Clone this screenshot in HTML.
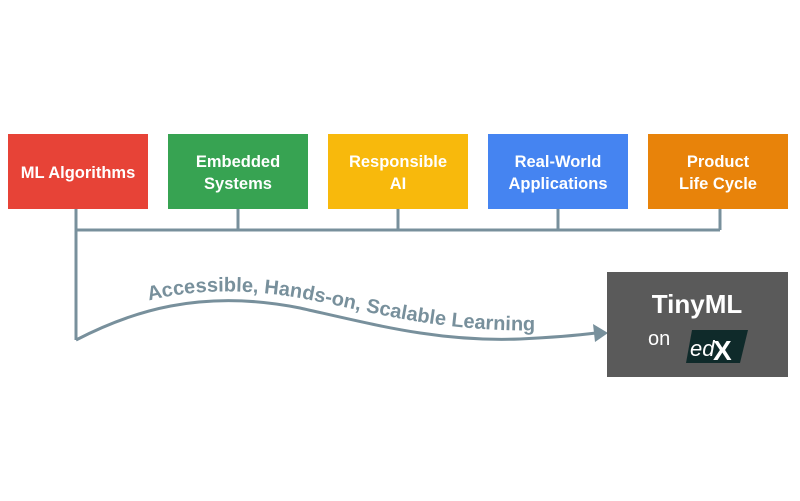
<!DOCTYPE html>
<html><head><style>
html,body{margin:0;padding:0;background:#fff;}
svg{display:block;}
text{font-family:"Liberation Sans",sans-serif;}
</style></head><body>
<svg width="800" height="501" viewBox="0 0 800 501" xmlns="http://www.w3.org/2000/svg">
<g stroke="#78909c" stroke-width="3" fill="none">
<path d="M76,209 V340"/>
<path d="M76,230 H720 M238,209 V230 M398,209 V230 M558,209 V230 M720,209 V230"/>
<path d="M76,340 C130,312 200,288 300,308 C380,326 440,342 520,339 C560,337 580,335 596,333"/>
</g>
<polygon points="608,333 593,324 595,342" fill="#78909c"/>
<path id="tp" d="M100,318 C140,300 200,281 300,298 C380,313 440,334 560,330" fill="none"/>
<text font-size="20" font-weight="bold" fill="#78909c"><textPath href="#tp" startOffset="52">Accessible, Hands-on, Scalable Learning</textPath></text>
<rect x="8" y="134" width="140" height="75" fill="#e74337"/>
<rect x="168" y="134" width="140" height="75" fill="#37a352"/>
<rect x="328" y="134" width="140" height="75" fill="#f8b90c"/>
<rect x="488" y="134" width="140" height="75" fill="#4584f1"/>
<rect x="648" y="134" width="140" height="75" fill="#e8830a"/>
<g fill="#fff" font-size="16.5" font-weight="bold" text-anchor="middle">
<text x="78" y="178">ML Algorithms</text>
<text x="238" y="167">Embedded</text><text x="238" y="189">Systems</text>
<text x="398" y="167">Responsible</text><text x="398" y="189">AI</text>
<text x="558" y="167">Real-World</text><text x="558" y="189">Applications</text>
<text x="718" y="167">Product</text><text x="718" y="189">Life Cycle</text>
</g>
<rect x="607" y="272" width="181" height="105" fill="#5a5a5a"/>
<text x="697" y="313" font-size="26" font-weight="bold" fill="#fff" text-anchor="middle">TinyML</text>
<text x="648" y="345" font-size="20" fill="#fff">on</text>
<polygon points="692,330 748,330 740,363 686,363" fill="#0f2a2a"/>
<text x="690" y="356" font-size="22" font-style="italic" fill="#fff">ed</text>
<text x="713" y="360" font-size="28" font-weight="bold" fill="#fff">X</text>
</svg>
</body></html>
